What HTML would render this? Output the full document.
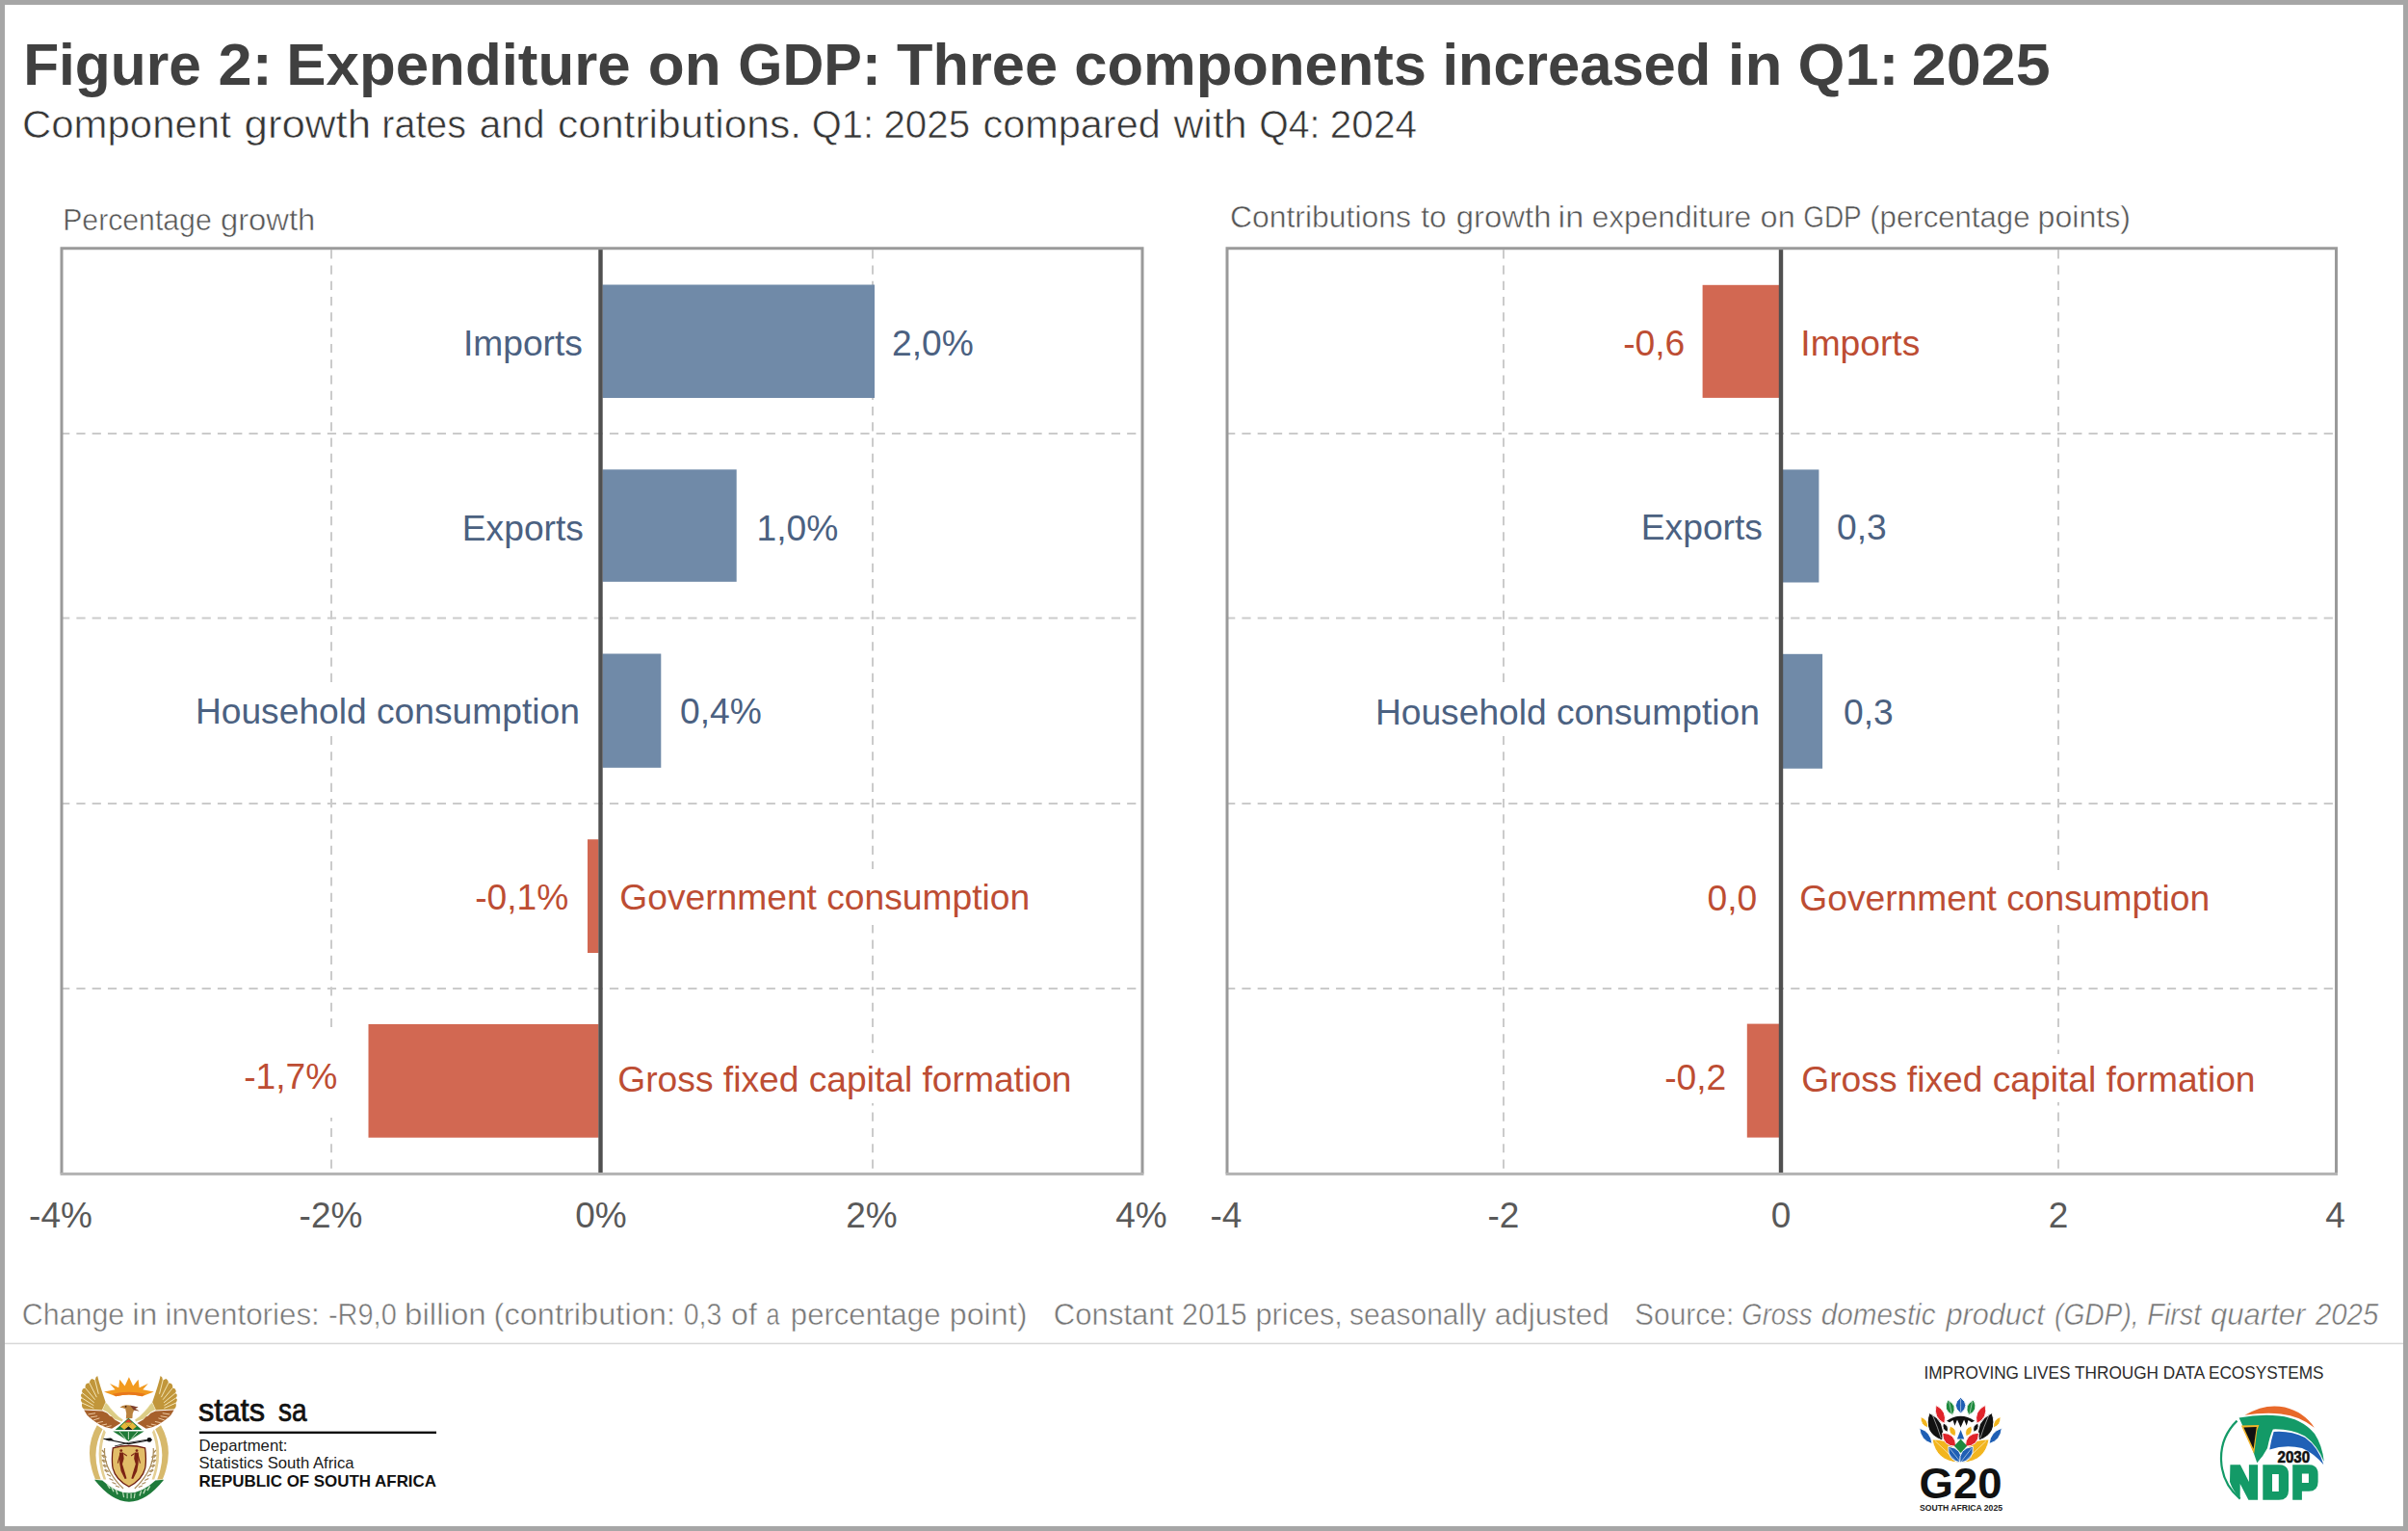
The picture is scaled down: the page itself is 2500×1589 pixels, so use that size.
<!DOCTYPE html>
<html><head><meta charset="utf-8">
<style>
html,body{margin:0;padding:0;background:#fff;}
body{width:2500px;height:1589px;overflow:hidden;position:relative;}
svg{position:absolute;left:0;top:0;display:block;}
text{font-family:"Liberation Sans",sans-serif;}
</style></head>
<body>
<svg width="2500" height="1589" viewBox="0 0 2500 1589">
<rect x="0" y="0" width="2500" height="1589" fill="#ffffff"/>
<!-- outer border -->
<rect x="2.5" y="2.5" width="2495" height="1584" fill="none" stroke="#a6a6a6" stroke-width="5"/>

<!-- titles -->
<text x="24.14" y="88" font-size="61" font-weight="bold" fill="#404040" textLength="184.76" lengthAdjust="spacingAndGlyphs">Figure</text>
<text x="226.63" y="88" font-size="61" font-weight="bold" fill="#404040" textLength="56.1" lengthAdjust="spacingAndGlyphs">2:</text>
<text x="297.35" y="88" font-size="61" font-weight="bold" fill="#404040" textLength="357.29" lengthAdjust="spacingAndGlyphs">Expenditure</text>
<text x="672.77" y="88" font-size="61" font-weight="bold" fill="#404040" textLength="75.83" lengthAdjust="spacingAndGlyphs">on</text>
<text x="766.36" y="88" font-size="61" font-weight="bold" fill="#404040" textLength="148.29" lengthAdjust="spacingAndGlyphs">GDP:</text>
<text x="931.1" y="88" font-size="61" font-weight="bold" fill="#404040" textLength="166.94" lengthAdjust="spacingAndGlyphs">Three</text>
<text x="1115.18" y="88" font-size="61" font-weight="bold" fill="#404040" textLength="365.88" lengthAdjust="spacingAndGlyphs">components</text>
<text x="1497.49" y="88" font-size="61" font-weight="bold" fill="#404040" textLength="278.78" lengthAdjust="spacingAndGlyphs">increased</text>
<text x="1793.82" y="88" font-size="61" font-weight="bold" fill="#404040" textLength="56.64" lengthAdjust="spacingAndGlyphs">in</text>
<text x="1866.64" y="88" font-size="61" font-weight="bold" fill="#404040" textLength="104.72" lengthAdjust="spacingAndGlyphs">Q1:</text>
<text x="1984.88" y="88" font-size="61" font-weight="bold" fill="#404040" textLength="143.72" lengthAdjust="spacingAndGlyphs">2025</text>
<text x="22.93" y="143" font-size="40.5" fill="#353535" stroke="#fff" stroke-width="0.6" textLength="216.94" lengthAdjust="spacingAndGlyphs">Component</text>
<text x="253.52" y="143" font-size="40.5" fill="#353535" stroke="#fff" stroke-width="0.6" textLength="131.56" lengthAdjust="spacingAndGlyphs">growth</text>
<text x="396.35" y="143" font-size="40.5" fill="#353535" stroke="#fff" stroke-width="0.6" textLength="87.67" lengthAdjust="spacingAndGlyphs">rates</text>
<text x="497.8" y="143" font-size="40.5" fill="#353535" stroke="#fff" stroke-width="0.6" textLength="67.68" lengthAdjust="spacingAndGlyphs">and</text>
<text x="578.95" y="143" font-size="40.5" fill="#353535" stroke="#fff" stroke-width="0.6" textLength="253.19" lengthAdjust="spacingAndGlyphs">contributions.</text>
<text x="842.73" y="143" font-size="40.5" fill="#353535" stroke="#fff" stroke-width="0.6" textLength="64.41" lengthAdjust="spacingAndGlyphs">Q1:</text>
<text x="917.41" y="143" font-size="40.5" fill="#353535" stroke="#fff" stroke-width="0.6" textLength="89.7" lengthAdjust="spacingAndGlyphs">2025</text>
<text x="1020.48" y="143" font-size="40.5" fill="#353535" stroke="#fff" stroke-width="0.6" textLength="184.28" lengthAdjust="spacingAndGlyphs">compared</text>
<text x="1218.4" y="143" font-size="40.5" fill="#353535" stroke="#fff" stroke-width="0.6" textLength="76.25" lengthAdjust="spacingAndGlyphs">with</text>
<text x="1307.16" y="143" font-size="40.5" fill="#353535" stroke="#fff" stroke-width="0.6" textLength="63.21" lengthAdjust="spacingAndGlyphs">Q4:</text>
<text x="1380.8" y="143" font-size="40.5" fill="#353535" stroke="#fff" stroke-width="0.6" textLength="90.32" lengthAdjust="spacingAndGlyphs">2024</text>

<!-- CHARTS -->
<line x1="344" y1="259.2" x2="344" y2="1217" stroke="#cbcbcb" stroke-width="2" stroke-dasharray="9.2 7.08"/>
<line x1="906" y1="259.2" x2="906" y2="1217" stroke="#cbcbcb" stroke-width="2" stroke-dasharray="9.2 7.08"/>
<line x1="63.1" y1="450" x2="1185" y2="450" stroke="#cbcbcb" stroke-width="2" stroke-dasharray="9.2 7.08"/>
<line x1="63.1" y1="641.5" x2="1185" y2="641.5" stroke="#cbcbcb" stroke-width="2" stroke-dasharray="9.2 7.08"/>
<line x1="63.1" y1="834" x2="1185" y2="834" stroke="#cbcbcb" stroke-width="2" stroke-dasharray="9.2 7.08"/>
<line x1="63.1" y1="1026" x2="1185" y2="1026" stroke="#cbcbcb" stroke-width="2" stroke-dasharray="9.2 7.08"/>
<rect x="200" y="708" width="405" height="56" fill="#fff"/>
<rect x="636" y="902" width="440" height="58" fill="#fff"/>
<rect x="250" y="1073" width="105" height="87" fill="#fff"/>
<rect x="636" y="1093" width="480" height="52" fill="#fff"/>
<rect x="625.5" y="295.5" width="282.5" height="117.5" fill="#708aa8"/>
<rect x="625.5" y="487.3" width="139.20000000000005" height="116.49999999999994" fill="#708aa8"/>
<rect x="625.5" y="678.5" width="60.799999999999955" height="118.29999999999995" fill="#708aa8"/>
<rect x="610" y="871.2" width="11.5" height="117.79999999999995" fill="#d26852"/>
<rect x="382.5" y="1063" width="239.0" height="117.70000000000005" fill="#d26852"/>
<rect x="621.3" y="258.8" width="4.4" height="959.2" fill="#505050"/>
<path d="M64,1218.0 L64,257.8 L1186,257.8 L1186,1218.0" fill="none" stroke="#9a9a9a" stroke-width="3" stroke-linejoin="miter"/>
<rect x="62.5" y="1216.9" width="1125" height="3" fill="#b3b3b3"/>
<text x="604.9" y="368.6" font-size="37.2" fill="#4b6181" text-anchor="end" >Imports</text>
<text x="926.0" y="368.6" font-size="37.2" fill="#4b6181" text-anchor="start" >2,0%</text>
<text x="605.9" y="560.5" font-size="37.2" fill="#4b6181" text-anchor="end" >Exports</text>
<text x="785.5" y="560.5" font-size="37.2" fill="#4b6181" text-anchor="start" >1,0%</text>
<text x="601.9" y="751" font-size="37.2" fill="#4b6181" text-anchor="end" >Household consumption</text>
<text x="706.0" y="751" font-size="37.2" fill="#4b6181" text-anchor="start" >0,4%</text>
<text x="590.3" y="944.2" font-size="37.2" fill="#bd4d33" text-anchor="end" >-0,1%</text>
<text x="643.3" y="944.2" font-size="37.2" fill="#bd4d33" text-anchor="start" >Government consumption</text>
<text x="350.3" y="1130.4" font-size="37.2" fill="#bd4d33" text-anchor="end" >-1,7%</text>
<text x="641.3" y="1133" font-size="37.2" fill="#bd4d33" text-anchor="start" >Gross fixed capital formation</text>
<text x="63" y="1274" font-size="37" fill="#595959" text-anchor="middle" >-4%</text>
<text x="343.5" y="1274" font-size="37" fill="#595959" text-anchor="middle" >-2%</text>
<text x="624" y="1274" font-size="37" fill="#595959" text-anchor="middle" >0%</text>
<text x="905" y="1274" font-size="37" fill="#595959" text-anchor="middle" >2%</text>
<text x="1185" y="1274" font-size="37" fill="#595959" text-anchor="middle" >4%</text>
<line x1="1561" y1="259.2" x2="1561" y2="1217" stroke="#cbcbcb" stroke-width="2" stroke-dasharray="9.2 7.08"/>
<line x1="2137" y1="259.2" x2="2137" y2="1217" stroke="#cbcbcb" stroke-width="2" stroke-dasharray="9.2 7.08"/>
<line x1="1273.1" y1="450" x2="2424.5" y2="450" stroke="#cbcbcb" stroke-width="2" stroke-dasharray="9.2 7.08"/>
<line x1="1273.1" y1="641.5" x2="2424.5" y2="641.5" stroke="#cbcbcb" stroke-width="2" stroke-dasharray="9.2 7.08"/>
<line x1="1273.1" y1="834" x2="2424.5" y2="834" stroke="#cbcbcb" stroke-width="2" stroke-dasharray="9.2 7.08"/>
<line x1="1273.1" y1="1026" x2="2424.5" y2="1026" stroke="#cbcbcb" stroke-width="2" stroke-dasharray="9.2 7.08"/>
<rect x="1420" y="708" width="410" height="56" fill="#fff"/>
<rect x="1860" y="903" width="440" height="57" fill="#fff"/>
<rect x="1862" y="1094" width="485" height="50" fill="#fff"/>
<rect x="1767.6" y="295.8" width="79.40000000000009" height="117.09999999999997" fill="#d26852"/>
<rect x="1851" y="487.4" width="37.40000000000009" height="117.10000000000002" fill="#708aa8"/>
<rect x="1851" y="678.8" width="41.09999999999991" height="118.90000000000009" fill="#708aa8"/>
<rect x="1813.8" y="1062.6" width="33.200000000000045" height="118.0" fill="#d26852"/>
<rect x="1846.8" y="258.8" width="4.4" height="959.2" fill="#505050"/>
<path d="M1274,1218.0 L1274,257.8 L2425.5,257.8 L2425.5,1218.0" fill="none" stroke="#9a9a9a" stroke-width="3" stroke-linejoin="miter"/>
<rect x="1272.5" y="1216.9" width="1154.5" height="3" fill="#b3b3b3"/>
<text x="1749.3" y="368.9" font-size="37.2" fill="#bd4d33" text-anchor="end" >-0,6</text>
<text x="1869.3" y="368.9" font-size="37.2" fill="#bd4d33" text-anchor="start" >Imports</text>
<text x="1829.9" y="559.7" font-size="37.2" fill="#4b6181" text-anchor="end" >Exports</text>
<text x="1907.0" y="559.7" font-size="37.2" fill="#4b6181" text-anchor="start" >0,3</text>
<text x="1826.9" y="751.6" font-size="37.2" fill="#4b6181" text-anchor="end" >Household consumption</text>
<text x="1914.0" y="751.6" font-size="37.2" fill="#4b6181" text-anchor="start" >0,3</text>
<text x="1824.3" y="945" font-size="37.2" fill="#bd4d33" text-anchor="end" >0,0</text>
<text x="1868.3" y="944.7" font-size="37.2" fill="#bd4d33" text-anchor="start" >Government consumption</text>
<text x="1792.3" y="1130.7" font-size="37.2" fill="#bd4d33" text-anchor="end" >-0,2</text>
<text x="1870.3" y="1133" font-size="37.2" fill="#bd4d33" text-anchor="start" >Gross fixed capital formation</text>
<text x="1273" y="1274" font-size="37" fill="#595959" text-anchor="middle" >-4</text>
<text x="1561" y="1274" font-size="37" fill="#595959" text-anchor="middle" >-2</text>
<text x="1849" y="1274" font-size="37" fill="#595959" text-anchor="middle" >0</text>
<text x="2137" y="1274" font-size="37" fill="#595959" text-anchor="middle" >2</text>
<text x="2424.5" y="1274" font-size="37" fill="#595959" text-anchor="middle" >4</text>

<!-- footnote -->
<text x="65.22" y="239" font-size="30.5" fill="#555555" stroke="#fff" stroke-width="0.5" textLength="154.47" lengthAdjust="spacingAndGlyphs">Percentage</text>
<text x="228.92" y="239" font-size="30.5" fill="#555555" stroke="#fff" stroke-width="0.5" textLength="98.44" lengthAdjust="spacingAndGlyphs">growth</text>
<text x="1276.95" y="236" font-size="30.5" fill="#555555" stroke="#fff" stroke-width="0.5" textLength="188.1" lengthAdjust="spacingAndGlyphs">Contributions</text>
<text x="1475.3" y="236" font-size="30.5" fill="#555555" stroke="#fff" stroke-width="0.5" textLength="26.35" lengthAdjust="spacingAndGlyphs">to</text>
<text x="1511.72" y="236" font-size="30.5" fill="#555555" stroke="#fff" stroke-width="0.5" textLength="98.75" lengthAdjust="spacingAndGlyphs">growth</text>
<text x="1617.55" y="236" font-size="30.5" fill="#555555" stroke="#fff" stroke-width="0.5" textLength="26.72" lengthAdjust="spacingAndGlyphs">in</text>
<text x="1652.66" y="236" font-size="30.5" fill="#555555" stroke="#fff" stroke-width="0.5" textLength="165.5" lengthAdjust="spacingAndGlyphs">expenditure</text>
<text x="1827.64" y="236" font-size="30.5" fill="#555555" stroke="#fff" stroke-width="0.5" textLength="36.02" lengthAdjust="spacingAndGlyphs">on</text>
<text x="1872.18" y="236" font-size="30.5" fill="#555555" stroke="#fff" stroke-width="0.5" textLength="60.52" lengthAdjust="spacingAndGlyphs">GDP</text>
<text x="1941.26" y="236" font-size="30.5" fill="#555555" stroke="#fff" stroke-width="0.5" textLength="166.24" lengthAdjust="spacingAndGlyphs">(percentage</text>
<text x="2115.59" y="236" font-size="30.5" fill="#555555" stroke="#fff" stroke-width="0.5" textLength="96.44" lengthAdjust="spacingAndGlyphs">points)</text>
<text x="22.8" y="1375" font-size="30.5" fill="#767676" stroke="#fff" stroke-width="0.5" textLength="106.44" lengthAdjust="spacingAndGlyphs">Change</text>
<text x="137.2" y="1375" font-size="30.5" fill="#767676" stroke="#fff" stroke-width="0.5" textLength="26.13" lengthAdjust="spacingAndGlyphs">in</text>
<text x="171.44" y="1375" font-size="30.5" fill="#767676" stroke="#fff" stroke-width="0.5" textLength="160.4" lengthAdjust="spacingAndGlyphs">inventories:</text>
<text x="340.95" y="1375" font-size="30.5" fill="#767676" stroke="#fff" stroke-width="0.5" textLength="70.81" lengthAdjust="spacingAndGlyphs">-R9,0</text>
<text x="420.03" y="1375" font-size="30.5" fill="#767676" stroke="#fff" stroke-width="0.5" textLength="84.75" lengthAdjust="spacingAndGlyphs">billion</text>
<text x="512.56" y="1375" font-size="30.5" fill="#767676" stroke="#fff" stroke-width="0.5" textLength="188.43" lengthAdjust="spacingAndGlyphs">(contribution:</text>
<text x="709.67" y="1375" font-size="30.5" fill="#767676" stroke="#fff" stroke-width="0.5" textLength="39.65" lengthAdjust="spacingAndGlyphs">0,3</text>
<text x="759.04" y="1375" font-size="30.5" fill="#767676" stroke="#fff" stroke-width="0.5" textLength="26.86" lengthAdjust="spacingAndGlyphs">of</text>
<text x="795.58" y="1375" font-size="30.5" fill="#767676" stroke="#fff" stroke-width="0.5" textLength="14.0" lengthAdjust="spacingAndGlyphs">a</text>
<text x="820.86" y="1375" font-size="30.5" fill="#767676" stroke="#fff" stroke-width="0.5" textLength="155.58" lengthAdjust="spacingAndGlyphs">percentage</text>
<text x="985.79" y="1375" font-size="30.5" fill="#767676" stroke="#fff" stroke-width="0.5" textLength="80.58" lengthAdjust="spacingAndGlyphs">point)</text>
<text x="1093.88" y="1375" font-size="30.5" fill="#767676" stroke="#fff" stroke-width="0.5" textLength="124.4" lengthAdjust="spacingAndGlyphs">Constant</text>
<text x="1227.11" y="1375" font-size="30.5" fill="#767676" stroke="#fff" stroke-width="0.5" textLength="67.45" lengthAdjust="spacingAndGlyphs">2015</text>
<text x="1303.59" y="1375" font-size="30.5" fill="#767676" stroke="#fff" stroke-width="0.5" textLength="90.27" lengthAdjust="spacingAndGlyphs">prices,</text>
<text x="1401.02" y="1375" font-size="30.5" fill="#767676" stroke="#fff" stroke-width="0.5" textLength="141.91" lengthAdjust="spacingAndGlyphs">seasonally</text>
<text x="1551.77" y="1375" font-size="30.5" fill="#767676" stroke="#fff" stroke-width="0.5" textLength="119.0" lengthAdjust="spacingAndGlyphs">adjusted</text>
<text x="1697.02" y="1375" font-size="30.5" fill="#767676" stroke="#fff" stroke-width="0.5" textLength="103.27" lengthAdjust="spacingAndGlyphs">Source:</text>
<text x="1808.3" y="1375" font-size="30.5" font-style="italic" fill="#767676" stroke="#fff" stroke-width="0.5" textLength="73.21" lengthAdjust="spacingAndGlyphs">Gross</text>
<text x="1890.83" y="1375" font-size="30.5" font-style="italic" fill="#767676" stroke="#fff" stroke-width="0.5" textLength="118.72" lengthAdjust="spacingAndGlyphs">domestic</text>
<text x="2020.41" y="1375" font-size="30.5" font-style="italic" fill="#767676" stroke="#fff" stroke-width="0.5" textLength="102.32" lengthAdjust="spacingAndGlyphs">product</text>
<text x="2133.08" y="1375" font-size="30.5" font-style="italic" fill="#767676" stroke="#fff" stroke-width="0.5" textLength="87.49" lengthAdjust="spacingAndGlyphs">(GDP),</text>
<text x="2229.36" y="1375" font-size="30.5" font-style="italic" fill="#767676" stroke="#fff" stroke-width="0.5" textLength="55.84" lengthAdjust="spacingAndGlyphs">First</text>
<text x="2294.98" y="1375" font-size="30.5" font-style="italic" fill="#767676" stroke="#fff" stroke-width="0.5" textLength="98.43" lengthAdjust="spacingAndGlyphs">quarter</text>
<text x="2403.9" y="1375" font-size="30.5" font-style="italic" fill="#767676" stroke="#fff" stroke-width="0.5" textLength="65.46" lengthAdjust="spacingAndGlyphs">2025</text>
<rect x="5" y="1393.7" width="2490" height="1.5" fill="#d8d8d8"/>

<!-- LOGOS -->
<!-- coat of arms -->
<g id="coa">
  <!-- sun -->
  <path d="M108,1444.6 L119.5,1442.2 L114,1436 L123.2,1440.2 L124.2,1431.8 L129.6,1438.6 L133.9,1429.2 L138.2,1438.6 L143.6,1431.8 L144.6,1440.2 L153.8,1436 L148.3,1442.2 L159.8,1444.6 L147.5,1449.2 Q133.9,1445.6 120.3,1449.2 Z" fill="#f29a1f"/>
  <path d="M120.3,1449.2 Q133.9,1445.6 147.5,1449.2 L151,1446.8 Q133.9,1442.6 116.8,1446.8 Z" fill="#e8781c"/>
  <g id="lwing">
    <!-- upper wing gold -->
    <path d="M101.2,1428 Q103,1436 109.7,1455.6 L106.3,1463.4 L87.2,1462.6 Q84.4,1460.5 85.1,1457.3 L85.4,1456.2 Q83.6,1454.5 84,1452.2 L85.2,1451 Q83.4,1449 84.2,1447.1 L85.9,1446 Q84.4,1443.5 85.9,1441.6 L88.6,1440.6 Q88,1437.5 89.8,1436 L92.8,1435.2 Q93,1432 95.3,1430.9 L98.8,1432.4 Q99,1429 101.2,1428 Z" fill="#c1963a"/>
    <g stroke="#f7e9bd" stroke-width="0.95" fill="none" stroke-linecap="round">
      <path d="M98.6,1432.2 L102.2,1446.4"/>
      <path d="M92.8,1435.2 L100.2,1449.8"/>
      <path d="M88.6,1440.6 L98.4,1452.4"/>
      <path d="M85.9,1446 L97.5,1455.6"/>
      <path d="M85.2,1451 L97,1458.6"/>
      <path d="M85.4,1456.2 L97,1461.4"/>
    </g>
    <!-- shoulder -->
    <path d="M109.7,1455.6 L106.3,1463.2 Q110,1465 111.4,1465.8 Q116,1470 119.1,1473 L126.7,1475.6 L127.8,1473.4 Q122,1470 118.2,1465.3 Q114,1461 112.3,1458.1 Z" fill="#dccd86" stroke="#fbf3d8" stroke-width="0.5"/>
    <!-- lower wing brown -->
    <path d="M87.2,1463.4 L106.3,1464.6 L111.4,1466.8 L114,1469.6 L116.4,1470.4 L119.1,1473.6 L125.4,1477 L116.1,1482.8 L109.7,1481.2 L103.8,1478.7 L98.3,1475.3 L94,1471.9 L90.6,1468.9 Z" fill="#a6602b"/>
    <g stroke="#f3d3ac" stroke-width="0.9" fill="none" stroke-linecap="round">
      <path d="M91.9,1467.9 L98.7,1466.8"/>
      <path d="M94.3,1470.9 L100.8,1469.8"/>
      <path d="M97.4,1473.8 L103,1472"/>
      <path d="M101.4,1476.6 L106.5,1475.5"/>
      <path d="M105.7,1479.2 L110.6,1478.1"/>
      <path d="M110.6,1481 L115.2,1479.8"/>
    </g>
    <!-- tusk -->
    <path d="M100.8,1479.2 Q86,1505 99,1535.5 L104.6,1535.5 Q93.4,1507 106.6,1483.2 Z" fill="#d7b96c"/>
    <path d="M107.8,1483.6 Q97.5,1508 107.6,1535.5 L110.2,1535.5 Q101,1509 109.8,1486.4 Z" fill="#e4cf94"/>
    <!-- wheat -->
    <g stroke="#a88b5a" stroke-width="1.2" fill="none">
      <path d="M108.6,1503 Q107,1525 128,1545"/>
      <path d="M107,1510 l3.5,2.5 M107,1515 l4,2.5 M107.8,1520 l4,2.5 M109,1525 l4,2.4 M111,1530 l4,2.2 M113.5,1534.5 l4,2 M116.5,1538.5 l4,1.8 M120,1542 l4,1.5"/>
      <path d="M108.5,1508 l-2.6,-3 M108.3,1513 l-2.6,-3 M108.6,1518 l-2.6,-3 M109.6,1523 l-2.8,-2.6 M111.4,1528 l-3,-2.4"/>
    </g>
  </g>
  <use href="#lwing" transform="translate(267.8,0) scale(-1,1)"/>
  <!-- bird head / neck -->
  <path d="M124.4,1460.8 Q127,1458.6 131,1458.2 Q135,1458.2 137,1459.6 L143.5,1460.6 L140,1462 L144.6,1464.6 L139.2,1463.6 Q137.2,1466.5 137.4,1472 L130.8,1472.4 Q132,1467 130.2,1462.2 Q127.5,1461.2 124.4,1460.8 Z" fill="#b9823e"/>
  <path d="M135,1458.6 L143.5,1460.6 L140,1462 L144.6,1464.6 L138.8,1463.4 Z" fill="#7d3f2e"/>
  <circle cx="130.6" cy="1459.8" r="0.9" fill="#3a1a10"/>
  <!-- diamond -->
  <path d="M133.4,1471.8 L147.4,1484 L119.6,1484 Z" fill="#1d7a35"/>
  <path d="M133.4,1472.8 L137.6,1476.6 L129.2,1476.6 Z" fill="#d9412a"/>
  <path d="M129.2,1476.6 L137.6,1476.6 L133.4,1480.4 Z" fill="#e7b63a"/>
  <path d="M125,1480.4 L129.2,1476.6 L133.4,1480.4 L129.2,1484 Z" fill="#e7b63a"/>
  <path d="M133.4,1480.4 L137.6,1476.6 L141.8,1480.4 L137.6,1484 Z" fill="#e7b63a"/>
  <path d="M129.2,1484 L133.4,1480.4 L137.6,1484 Z" fill="#1a1a1a"/>
  <!-- leaves -->
  <path d="M117.2,1485.4 L149.6,1485.4 L133.4,1495.8 Z" fill="#1f7a38"/>
  <g stroke="#e8f4e0" stroke-width="0.8"><path d="M124,1486 L130.5,1493.5 M142.8,1486 L136.3,1493.5 M133.4,1486 L133.4,1494"/></g>
  <!-- spears -->
  <path d="M107.5,1493.2 L133.4,1498.6 L158,1494.2" stroke="#111" stroke-width="1.1" fill="none"/>
  <path d="M107.5,1493.2 L115,1492.6 L118,1494.6 L113,1495.4 Z" fill="#111"/>
  <path d="M119,1501 L133.4,1497.4 L154,1494" stroke="#222" stroke-width="0.9" fill="none"/>
  <circle cx="155" cy="1494.4" r="2.4" fill="#111"/>
  <!-- shield -->
  <path d="M117.3,1502.8 Q133.9,1498.2 150.6,1502.8 Q152,1512 151,1522 Q149,1535 133.9,1543 Q118.8,1535 116.8,1522 Q115.8,1512 117.3,1502.8 Z" fill="#e2bd68" stroke="#6e1e12" stroke-width="1.3"/>
  <g fill="#7c2314">
    <circle cx="125.8" cy="1505.6" r="1.4"/>
    <circle cx="142" cy="1505.6" r="1.4"/>
    <path d="M124,1507.5 L128,1507.5 L128.6,1514 L127,1519.5 L129.6,1528 L131.5,1534.6 L129.6,1535 L125.6,1527 L124.2,1519 Z"/>
    <path d="M143.8,1507.5 L139.8,1507.5 L139.2,1514 L140.8,1519.5 L138.2,1528 L136.3,1534.6 L138.2,1535 L142.2,1527 L143.6,1519 Z"/>
    <path d="M124.4,1508.5 L121.8,1518.5 L122.8,1518.8 L125.2,1511 Z M143.4,1508.5 L146,1518.5 L145,1518.8 L142.6,1511 Z"/>
    <path d="M128,1509 L131.5,1511.4 L132,1510.6 L128.5,1508 Z M139.8,1509 L136.3,1511.4 L135.8,1510.6 L139.3,1508 Z"/>
  </g>
  <!-- ribbon -->
  <path d="M98,1535.8 Q133.9,1581.5 170.2,1535.8 L161.4,1536.4 Q133.9,1562.5 106.2,1536.4 Z" fill="#1f7b3b"/>
  <g fill="#cfe8c9" opacity="0.9">
    <path d="M110.5,1540.5 l1.3,-0.8 l3,4.8 l-1.3,0.8 Z M115,1543.5 l1.3,-0.6 l2.4,5 l-1.3,0.6 Z M119.5,1546 l1.3,-0.5 l1.9,5.2 l-1.3,0.5 Z"/>
    <path d="M127,1549 l1.2,-0.2 l1,5.3 l-1.2,0.2 Z M131.5,1549.8 h1.2 v5.4 h-1.2 Z M135.5,1549.8 h1.2 v5.4 h-1.2 Z M139.5,1549.5 l1.2,0.2 l-0.8,5.3 l-1.2,-0.2 Z"/>
    <path d="M146,1547.2 l1.3,0.4 l-1.7,5.1 l-1.3,-0.4 Z M150.5,1545 l1.3,0.6 l-2.3,4.9 l-1.3,-0.6 Z M155,1542 l1.3,0.8 l-2.8,4.6 l-1.3,-0.8 Z"/>
  </g>
</g>

<!-- stats sa -->
<text x="206" y="1475.3" font-size="33" fill="#111" stroke="#111" stroke-width="0.7" textLength="69" lengthAdjust="spacingAndGlyphs">stats</text><text x="288.9" y="1475.3" font-size="33" fill="#111" stroke="#111" stroke-width="0.7" textLength="29.6" lengthAdjust="spacingAndGlyphs">sa</text>
<rect x="207" y="1485.6" width="246" height="2.4" fill="#111"/>
<text x="206.5" y="1506.2" font-size="16.6" fill="#1a1a1a" textLength="92" lengthAdjust="spacingAndGlyphs">Department:</text>
<text x="206.5" y="1524.4" font-size="16.6" fill="#1a1a1a" textLength="161" lengthAdjust="spacingAndGlyphs">Statistics South Africa</text>
<text x="206.5" y="1543" font-size="16.4" font-weight="bold" fill="#111" textLength="246.5" lengthAdjust="spacingAndGlyphs">REPUBLIC OF SOUTH AFRICA</text>

<!-- improving lives -->
<text x="1997.5" y="1430.8" font-size="17.8" fill="#2a2a2a" textLength="415" lengthAdjust="spacingAndGlyphs">IMPROVING LIVES THROUGH DATA ECOSYSTEMS</text>

<!-- G20 -->
<g id="g20">
<path d="M2035.6,1450.4 Q2025.0,1458.7 2035.6,1466.9 Q2046.1,1458.7 2035.6,1450.4 Z" fill="#1f5fb4" stroke="#fff" stroke-width="0.9"/>
<path d="M2022.2,1453.1 Q2016.3,1463.6 2027.2,1468.7 Q2033.1,1458.2 2022.2,1453.1 Z" fill="#1e8a3e" stroke="#fff" stroke-width="0.9"/>
<path d="M2049.0,1453.1 Q2038.1,1458.2 2043.9,1468.7 Q2054.8,1463.6 2049.0,1453.1 Z" fill="#1e8a3e" stroke="#fff" stroke-width="0.9"/>
<path d="M2010.0,1458.5 Q2006.8,1471.5 2018.8,1477.5 Q2022.0,1464.5 2010.0,1458.5 Z" fill="#e0232a" stroke="#fff" stroke-width="0.9"/>
<path d="M2061.1,1458.5 Q2049.1,1464.5 2052.3,1477.5 Q2064.3,1471.5 2061.1,1458.5 Z" fill="#e0232a" stroke="#fff" stroke-width="0.9"/>
<path d="M2003.1,1466.5 Q1995.8,1487.4 2016.6,1495.1 Q2021.3,1475.4 2003.1,1466.5 Z" fill="#111111" stroke="#fff" stroke-width="0.9"/>
<path d="M2068.0,1466.5 Q2049.8,1475.4 2054.5,1495.1 Q2075.3,1487.4 2068.0,1466.5 Z" fill="#111111" stroke="#fff" stroke-width="0.9"/>
<path d="M1994.1,1470.4 Q1993.4,1479.1 2001.6,1481.9 Q2002.3,1473.3 1994.1,1470.4 Z" fill="#f2b51e" stroke="#fff" stroke-width="0.9"/>
<path d="M2077.0,1470.4 Q2068.8,1473.3 2069.5,1481.9 Q2077.7,1479.1 2077.0,1470.4 Z" fill="#f2b51e" stroke="#fff" stroke-width="0.9"/>
<path d="M1992.8,1482.2 Q1993.9,1494.8 2006.0,1498.6 Q2004.9,1486.0 1992.8,1482.2 Z" fill="#1f5fb4" stroke="#fff" stroke-width="0.9"/>
<path d="M2078.3,1482.2 Q2066.2,1486.0 2065.1,1498.6 Q2077.2,1494.8 2078.3,1482.2 Z" fill="#1f5fb4" stroke="#fff" stroke-width="0.9"/>
<path d="M2006.0,1494.0 Q2010.2,1516.7 2033.4,1518.0 Q2031.2,1492.9 2006.0,1494.0 Z" fill="#f2b51e" stroke="#fff" stroke-width="0.9"/>
<path d="M2065.1,1494.0 Q2039.9,1492.9 2037.8,1518.0 Q2060.9,1516.7 2065.1,1494.0 Z" fill="#f2b51e" stroke="#fff" stroke-width="0.9"/>
<path d="M2022.8,1501.3 Q2021.4,1516.4 2036.4,1518.0 Q2037.8,1503.0 2022.8,1501.3 Z" fill="#1f5fb4" stroke="#fff" stroke-width="0.9"/>
<path d="M2048.3,1501.3 Q2033.3,1503.0 2034.7,1518.0 Q2049.7,1516.4 2048.3,1501.3 Z" fill="#1f5fb4" stroke="#fff" stroke-width="0.9"/>
<path d="M2016.6,1487.2 Q2016.8,1501.1 2030.7,1501.3 Q2030.5,1487.4 2016.6,1487.2 Z" fill="#e0232a" stroke="#fff" stroke-width="0.9"/>
<path d="M2054.5,1487.2 Q2040.6,1487.4 2040.4,1501.3 Q2054.3,1501.1 2054.5,1487.2 Z" fill="#e0232a" stroke="#fff" stroke-width="0.9"/>
<path d="M2024.5,1480.1 Q2021.7,1488.2 2029.8,1490.7 Q2032.7,1482.7 2024.5,1480.1 Z" fill="#f2b51e" stroke="#fff" stroke-width="0.9"/>
<path d="M2046.6,1480.1 Q2038.4,1482.7 2041.3,1490.7 Q2049.5,1488.2 2046.6,1480.1 Z" fill="#f2b51e" stroke="#fff" stroke-width="0.9"/>
<path d="M2017.5,1477.0 Q2015.3,1483.8 2021.9,1486.3 Q2024.1,1479.6 2017.5,1477.0 Z" fill="#111111" stroke="#fff" stroke-width="0.9"/>
<path d="M2053.6,1477.0 Q2047.0,1479.6 2049.2,1486.3 Q2055.8,1483.8 2053.6,1477.0 Z" fill="#111111" stroke="#fff" stroke-width="0.9"/>
<path d="M2035.6,1493.4 L2042.2,1500.8 L2035.6,1507.9 L2028.9,1500.8 Z" fill="#1e8a3e"/>
<path d="M2035.6,1484.1 L2039.3,1493.4 L2031.9,1493.4 Z" fill="#1f5fb4"/>
<path d="M2021.0,1474.8 Q2035.6,1464.7 2050.1,1474.8 L2047.0,1476.2 L2043.5,1474.0 L2041.7,1479.7 L2039.1,1473.5 L2035.6,1481.4 L2032.0,1473.5 L2029.4,1479.7 L2027.6,1474.0 L2024.1,1476.2 Z" fill="#111111"/>
<g stroke="#ffffff" stroke-width="0.7" fill="none" opacity="0.75"><path d="M2006.5,1469.1 Q2011.7,1481.4 2015.3,1492.9" /><path d="M2064.7,1469.1 Q2059.4,1481.4 2055.8,1492.9" /><path d="M2009.1,1495.6 Q2019.7,1505.3 2031.1,1516.7" /><path d="M2062.0,1495.6 Q2051.4,1505.3 2040.0,1516.7" /><path d="M2024.1,1503.1 Q2029.4,1509.7 2035.1,1517.2" /><path d="M2047.0,1503.1 Q2041.7,1509.7 2036.0,1517.2" /><path d="M2035.6,1451.9 Q2035.6,1458.5 2035.6,1465.6" /><path d="M2023.7,1455.0 Q2025.0,1462.0 2026.3,1467.8" /><path d="M2047.5,1455.0 Q2046.1,1462.0 2044.8,1467.8" /></g>
  <text x="2035.6" y="1554.6" font-size="44" font-weight="bold" fill="#111" text-anchor="middle" textLength="86" lengthAdjust="spacingAndGlyphs">G20</text>
  <text x="2036" y="1568" font-size="9.6" font-weight="bold" fill="#222" text-anchor="middle" textLength="86" lengthAdjust="spacingAndGlyphs">SOUTH AFRICA 2025</text>
</g>

<!-- NDP -->
<g id="ndp">
  <path d="M2330.5,1468.8 Q2352,1456 2372,1460.6 Q2392,1465.5 2402.8,1481.8 Q2388,1469.5 2368,1467.4 Q2350,1465.8 2330.5,1468.8 Z" fill="#e8692a"/>
  <path d="M2325.7,1555.6 A54.5,54.5 0 0 1 2322.5,1474.6" stroke="#139a67" stroke-width="2.2" fill="none"/>
  <path d="M2324.6,1471.6 Q2345,1467.6 2366,1469.4 Q2390,1472 2403,1488 Q2411,1500 2412.8,1517 Q2406,1500 2393,1490.4 Q2378,1482.8 2359.8,1483.4 Q2356.6,1490 2354,1503 Q2350,1511 2343.3,1518.2 Q2336,1496 2324.6,1471.6 Z" fill="#139a67"/>
  <path d="M2326.8,1479.6 L2345.4,1479 L2343.2,1485 L2340.2,1509 Z" fill="#f0b42a"/>
  <path d="M2329.4,1481.4 L2342.8,1481 L2339.6,1503.8 Z" fill="#111"/>
  <path d="M2360.6,1486 Q2378,1484.6 2393,1492 Q2407,1502 2412.4,1520.2 Q2402,1508 2390,1503 Q2373,1498.6 2356.3,1504.6 Q2358,1494 2360.6,1486 Z" fill="#2061b6"/>
  <path d="M2315.4,1520.2 L2325.9,1520.2 L2334.9,1537.9 L2334.9,1520.2 L2344.1,1520.2 L2344.1,1556.8 L2334.4,1556.8 L2325.7,1539.9 L2325.7,1555.6 Q2318,1547 2315,1537.9 Z" fill="#139a67"/>
  <path fill-rule="evenodd" d="M2349.3,1520.2 L2366,1520.2 Q2376,1520.2 2376,1530 L2376,1547 Q2376,1556.8 2366,1556.8 L2349.3,1556.8 Z M2359,1529.9 L2359,1548.1 L2365.8,1548.1 L2365.8,1529.9 Z" fill="#139a67"/>
  <path fill-rule="evenodd" d="M2380.2,1520.2 L2397,1520.2 Q2406.6,1520.2 2406.6,1530 L2406.6,1538 Q2406.6,1547.8 2397,1547.8 L2389.9,1547.8 L2389.9,1556.8 L2380.2,1556.8 Z M2389.9,1529.4 L2389.9,1538.9 L2396.9,1538.9 L2396.9,1529.4 Z" fill="#139a67"/>
  <text x="2381.3" y="1517.9" font-size="16.4" font-weight="bold" fill="#111" stroke="#111" stroke-width="0.6" text-anchor="middle" textLength="33.6" lengthAdjust="spacingAndGlyphs">2030</text>
</g>

</svg>
</body></html>
